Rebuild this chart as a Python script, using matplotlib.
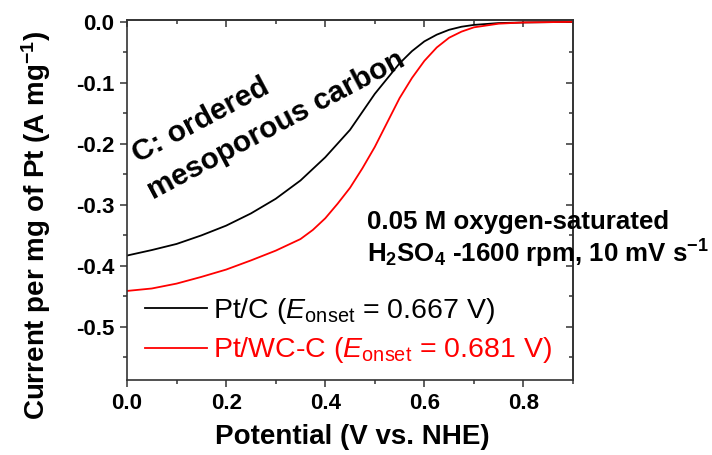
import matplotlib
matplotlib.use('Agg')
import matplotlib.pyplot as plt
from matplotlib.ticker import MultipleLocator

plt.rcParams['font.family'] = ['Liberation Sans', 'DejaVu Sans']
plt.rcParams['mathtext.fontset'] = 'custom'
plt.rcParams['mathtext.rm'] = 'Liberation Sans'
plt.rcParams['mathtext.it'] = 'Liberation Sans:italic'
plt.rcParams['mathtext.bf'] = 'Liberation Sans:bold'

# ORR polarisation curves, current normalised by Pt mass
v_ptc = [0.00, 0.05, 0.10, 0.15, 0.20, 0.25, 0.30, 0.35, 0.40, 0.45, 0.50,
         0.55, 0.575, 0.60, 0.625, 0.65, 0.675, 0.70, 0.75, 0.80, 0.90]
i_ptc = [-0.383, -0.374, -0.364, -0.350, -0.334, -0.314, -0.290, -0.260, -0.222, -0.177, -0.118,
         -0.068, -0.048, -0.032, -0.021, -0.013, -0.008, -0.005, -0.002, -0.001, 0.000]

v_ptwc = [0.00, 0.05, 0.10, 0.15, 0.20, 0.25, 0.30, 0.35, 0.375, 0.40, 0.425, 0.45, 0.475, 0.50,
          0.525, 0.55, 0.575, 0.60, 0.625, 0.65, 0.675, 0.70, 0.75, 0.80, 0.90]
i_ptwc = [-0.441, -0.437, -0.429, -0.418, -0.406, -0.391, -0.375, -0.356, -0.341, -0.322, -0.298, -0.272, -0.240, -0.205,
          -0.165, -0.125, -0.092, -0.064, -0.042, -0.026, -0.016, -0.009, -0.003, -0.001, 0.000]

label_ptc = r"Pt/C ($E_{\mathrm{onset}}$ = 0.667 V)"
label_ptwc = r"Pt/WC-C ($E_{\mathrm{onset}}$ = 0.681 V)"

fig = plt.figure(figsize=(7.12, 4.55), dpi=100)
ax = fig.add_axes([0.1784, 0.1648, 0.6264, 0.7912])

ax.plot(v_ptc, i_ptc, color='black', linewidth=1.3, label=label_ptc)
ax.plot(v_ptwc, i_ptwc, color='red', linewidth=1.3, label=label_ptwc)

ax.set_xlim(0.0, 0.9)
ax.set_ylim(-0.587, 0.003)

# ticks: outward on bottom/left, inward on top/right
ax.xaxis.set_minor_locator(MultipleLocator(0.1))
ax.yaxis.set_minor_locator(MultipleLocator(0.05))
ax.tick_params(which='major', direction='out', length=5, width=1.1, color='#333333',
               labelsize=16, pad=4)
ax.tick_params(which='minor', direction='out', length=3, width=1.1, color='#333333')
ax.set_xticks([0.0, 0.2, 0.4, 0.6, 0.8])
ax.set_xticklabels(['0.0', '0.2', '0.4', '0.6', '0.8'], fontweight='bold')
ax.set_yticks([0.0, -0.1, -0.2, -0.3, -0.4, -0.5])
ax.set_yticklabels(['0.0', '-0.1', '-0.2', '-0.3', '-0.4', '-0.5'], fontweight='bold')

top = ax.secondary_xaxis('top')
top.xaxis.set_major_locator(MultipleLocator(0.2))
top.xaxis.set_minor_locator(MultipleLocator(0.1))
top.tick_params(which='major', direction='in', length=5, width=1.1, color='#333333', labeltop=False)
top.tick_params(which='minor', direction='in', length=3, width=1.1, color='#333333')
right = ax.secondary_yaxis('right')
right.yaxis.set_major_locator(MultipleLocator(0.1))
right.yaxis.set_minor_locator(MultipleLocator(0.05))
right.tick_params(which='major', direction='in', length=5, width=1.1, color='#333333', labelright=False)
right.tick_params(which='minor', direction='in', length=3, width=1.1, color='#333333')

for sp in list(ax.spines.values()) + [top.spines['top'], right.spines['right']]:
    sp.set_color('#333333')
    sp.set_linewidth(1.2)

ax.set_xlabel('Potential (V vs. NHE)', fontsize=20, fontweight='bold')
ax.xaxis.set_label_coords(0.505, -0.122)
ax.xaxis.label.set_va('top')
ax.set_ylabel(r'Current per mg of Pt (A mg$^{\mathbf{-1}}$)', fontsize=20, fontweight='bold')
ax.yaxis.set_label_coords(-0.166, 0.43)

# support annotation, written along the curve
ax.text(0.022, -0.232, 'C: ordered', fontsize=21.5, fontweight='bold', rotation=28,
        rotation_mode='anchor', ha='left', va='baseline')
ax.text(0.052, -0.292, 'mesoporous carbon', fontsize=21.5, fontweight='bold', rotation=28,
        rotation_mode='anchor', ha='left', va='baseline')

ax.text(0.484, -0.339, '0.05 M oxygen-saturated', fontsize=18.6, fontweight='bold',
        ha='left', va='baseline')
ax.text(0.484, -0.394, r'H$_\mathbf{2}$SO$_\mathbf{4}$ -1600 rpm, 10 mV s$^{\mathbf{-1}}$',
        fontsize=18.6, fontweight='bold', ha='left', va='baseline')

leg = ax.legend(loc='center left', bbox_to_anchor=(0.04, 0.1375), frameon=False,
                fontsize=20.5, handlelength=2.2, handletextpad=0.2, borderpad=0,
                borderaxespad=0, labelspacing=0.35)
leg.get_texts()[1].set_color('red')

fig.savefig('out.png', dpi=100)
